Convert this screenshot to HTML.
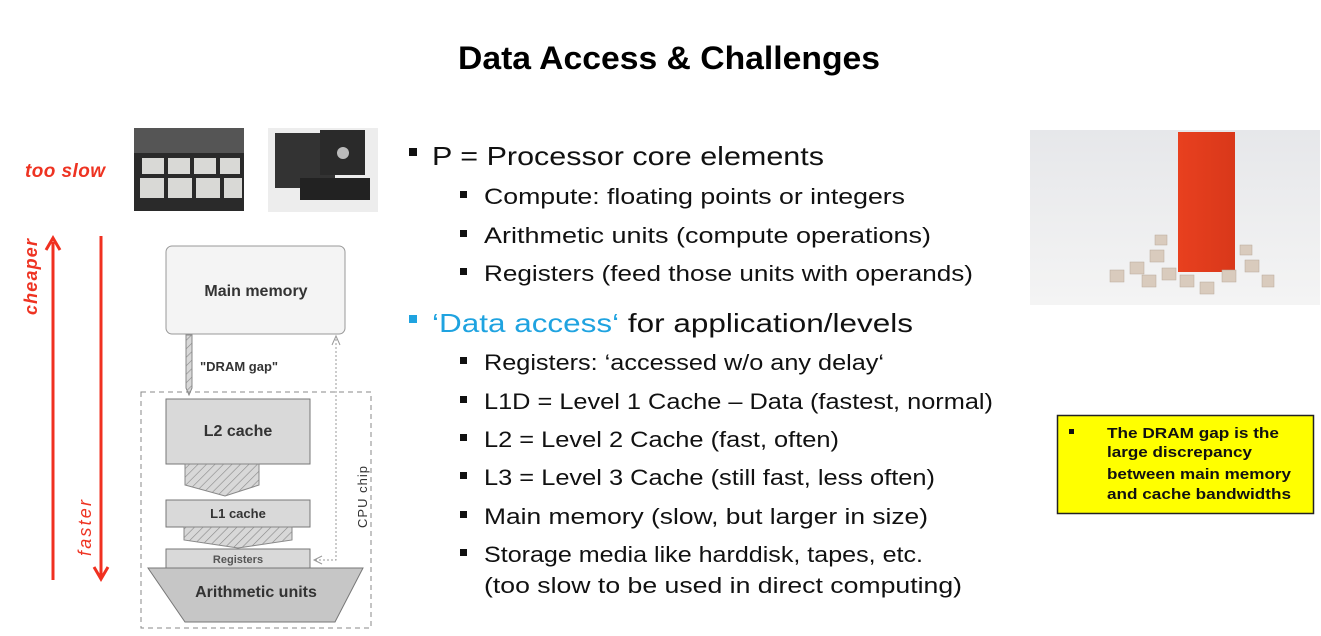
<!DOCTYPE html>
<html><head><meta charset="utf-8"><style>
html,body{margin:0;padding:0;background:#fff;}
svg{display:block;}
</style></head><body>
<svg width="1321" height="636" viewBox="0 0 1321 636" xmlns="http://www.w3.org/2000/svg" font-family="Liberation Sans, sans-serif">
<defs>
<pattern id="h" width="6" height="6" patternUnits="userSpaceOnUse" patternTransform="rotate(45)">
<rect width="6" height="6" fill="#d8d8d8"/><line x1="0" y1="0" x2="0" y2="6" stroke="#888" stroke-width="1.2"/></pattern>
<linearGradient id="bg" x1="0" y1="0" x2="0" y2="1"><stop offset="0" stop-color="#e6e7ea"/><stop offset="1" stop-color="#f4f4f4"/></linearGradient>
<linearGradient id="rb" x1="0" y1="0" x2="1" y2="0"><stop offset="0" stop-color="#e8401f"/><stop offset="1" stop-color="#d9381a"/></linearGradient>
</defs>
<text x="669" y="69" text-anchor="middle" font-size="32" font-weight="bold" textLength="422" lengthAdjust="spacingAndGlyphs">Data Access &amp; Challenges</text>

<!-- photos -->
<rect x="134" y="128" width="110" height="83" fill="#2a2a2a"/>
<rect x="134" y="128" width="110" height="25" fill="#555"/>
<g fill="#d9d9d6">
<rect x="142" y="158" width="22" height="16"/><rect x="168" y="158" width="22" height="16"/><rect x="194" y="158" width="22" height="16"/><rect x="220" y="158" width="20" height="16"/>
<rect x="140" y="178" width="24" height="20"/><rect x="168" y="178" width="24" height="20"/><rect x="196" y="178" width="24" height="20"/><rect x="224" y="178" width="18" height="20"/>
</g>
<rect x="268" y="128" width="110" height="84" fill="#ededed"/>
<rect x="275" y="133" width="60" height="55" fill="#333"/>
<rect x="320" y="130" width="45" height="45" fill="#2a2a2a"/>
<rect x="300" y="178" width="70" height="22" fill="#222"/>
<circle cx="343" cy="153" r="6" fill="#bbb"/>

<text x="25" y="177" font-size="19" font-weight="bold" font-style="italic" fill="#ee3322" textLength="80">too slow</text>

<!-- red arrows -->
<line x1="53" y1="580" x2="53" y2="242" stroke="#f03020" stroke-width="3"/>
<polyline points="46,250 53,238 60,250" fill="none" stroke="#f03020" stroke-width="3"/>
<line x1="101" y1="236" x2="101" y2="576" stroke="#f03020" stroke-width="3"/>
<polyline points="94,567 101,579 108,567" fill="none" stroke="#f03020" stroke-width="3"/>
<text transform="translate(37,315) rotate(-90)" font-size="18" font-weight="bold" font-style="italic" fill="#ee3322" textLength="76">cheaper</text>
<text transform="translate(91,556) rotate(-90)" font-size="18" font-style="italic" fill="#ee3322" textLength="56">faster</text>

<!-- diagram -->
<rect x="166" y="246" width="179" height="88" rx="6" fill="#f4f4f4" stroke="#999"/>
<text x="256" y="296" text-anchor="middle" font-size="16" font-weight="bold" fill="#333">Main memory</text>
<polygon points="186,335 192,335 192,388 189,395 186,388" fill="url(#h)" stroke="#888"/>
<text x="200" y="371" font-size="13" font-weight="bold" fill="#333">"DRAM gap"</text>
<rect x="141" y="392" width="230" height="236" fill="none" stroke="#888" stroke-dasharray="5,4"/>
<rect x="166" y="399" width="144" height="65" fill="#d9d9d9" stroke="#777"/>
<text x="238" y="436" text-anchor="middle" font-size="16" font-weight="bold" fill="#333">L2 cache</text>
<polygon points="185,464 259,464 259,485 225,496 185,485" fill="url(#h)" stroke="#888"/>
<rect x="166" y="500" width="144" height="27" fill="#d9d9d9" stroke="#777"/>
<text x="238" y="518" text-anchor="middle" font-size="13" font-weight="bold" fill="#333">L1 cache</text>
<polygon points="184,527 292,527 292,540 238,548 184,540" fill="url(#h)" stroke="#888"/>
<rect x="166" y="549" width="144" height="19" fill="#d9d9d9" stroke="#777"/>
<text x="238" y="563" text-anchor="middle" font-size="11" font-weight="bold" fill="#555">Registers</text>
<polygon points="148,568 363,568 335,622 185,622" fill="#c6c6c6" stroke="#777"/>
<text x="256" y="597" text-anchor="middle" font-size="16" font-weight="bold" fill="#333">Arithmetic units</text>
<polyline points="315,560 336,560 336,338" fill="none" stroke="#999" stroke-dasharray="2,2"/>
<polyline points="332,345 336,336 340,345" fill="none" stroke="#999"/>
<polyline points="322,556 314,560 322,564" fill="none" stroke="#999"/>
<text transform="translate(367,528) rotate(-90)" font-size="13" fill="#333" textLength="62">CPU chip</text>

<!-- bullets -->
<g font-size="26" fill="#111">
<rect x="409" y="148" width="8" height="8" fill="#111"/>
<text x="432" y="165" textLength="392" lengthAdjust="spacingAndGlyphs">P = Processor core elements</text>
<rect x="409" y="315" width="8" height="8" fill="#1fa3e0"/>
<text x="432" y="332" textLength="481" lengthAdjust="spacingAndGlyphs"><tspan fill="#1fa3e0">‘Data access‘</tspan> for application/levels</text>
</g>
<g font-size="22" fill="#111">
<rect x="460" y="191" width="7" height="7"/><text x="484" y="204" textLength="421" lengthAdjust="spacingAndGlyphs">Compute: floating points or integers</text>
<rect x="460" y="230" width="7" height="7"/><text x="484" y="243" textLength="447" lengthAdjust="spacingAndGlyphs">Arithmetic units (compute operations)</text>
<rect x="460" y="268" width="7" height="7"/><text x="484" y="281" textLength="489" lengthAdjust="spacingAndGlyphs">Registers (feed those units with operands)</text>
<rect x="460" y="357" width="7" height="7"/><text x="484" y="370" textLength="400" lengthAdjust="spacingAndGlyphs">Registers: ‘accessed w/o any delay‘</text>
<rect x="460" y="396" width="7" height="7"/><text x="484" y="409" textLength="509" lengthAdjust="spacingAndGlyphs">L1D = Level 1 Cache – Data (fastest, normal)</text>
<rect x="460" y="434" width="7" height="7"/><text x="484" y="447" textLength="355" lengthAdjust="spacingAndGlyphs">L2 = Level 2 Cache (fast, often)</text>
<rect x="460" y="472" width="7" height="7"/><text x="484" y="485" textLength="451" lengthAdjust="spacingAndGlyphs">L3 = Level 3 Cache (still fast, less often)</text>
<rect x="460" y="511" width="7" height="7"/><text x="484" y="524" textLength="444" lengthAdjust="spacingAndGlyphs">Main memory (slow, but larger in size)</text>
<rect x="460" y="549" width="7" height="7"/><text x="484" y="562" textLength="439" lengthAdjust="spacingAndGlyphs">Storage media like harddisk, tapes, etc.</text>
<text x="484" y="593" textLength="478" lengthAdjust="spacingAndGlyphs">(too slow to be used in direct computing)</text>
</g>

<!-- right image -->
<rect x="1030" y="130" width="290" height="175" fill="url(#bg)"/>
<rect x="1178" y="132" width="57" height="140" fill="url(#rb)"/>
<g fill="#d9cbbd" stroke="#b8a898" stroke-width="0.5">
<rect x="1110" y="270" width="14" height="12"/><rect x="1130" y="262" width="14" height="12"/><rect x="1150" y="250" width="14" height="12"/><rect x="1142" y="275" width="14" height="12"/><rect x="1162" y="268" width="14" height="12"/><rect x="1180" y="275" width="14" height="12"/><rect x="1200" y="282" width="14" height="12"/><rect x="1222" y="270" width="14" height="12"/><rect x="1245" y="260" width="14" height="12"/><rect x="1262" y="275" width="12" height="12"/><rect x="1155" y="235" width="12" height="10"/><rect x="1240" y="245" width="12" height="10"/>
</g>

<!-- yellow box -->
<rect x="1057.5" y="415.5" width="256" height="98" fill="#ffff00" stroke="#222" stroke-width="1.5"/>
<rect x="1069" y="429" width="5" height="5" fill="#111"/>
<g font-size="15" font-weight="bold" fill="#111">
<text x="1107" y="438" textLength="172" lengthAdjust="spacingAndGlyphs">The DRAM gap is the</text>
<text x="1107" y="457" textLength="145" lengthAdjust="spacingAndGlyphs">large discrepancy</text>
<text x="1107" y="479" textLength="184" lengthAdjust="spacingAndGlyphs">between main memory</text>
<text x="1107" y="499" textLength="184" lengthAdjust="spacingAndGlyphs">and cache bandwidths</text>
</g>
</svg>
</body></html>
